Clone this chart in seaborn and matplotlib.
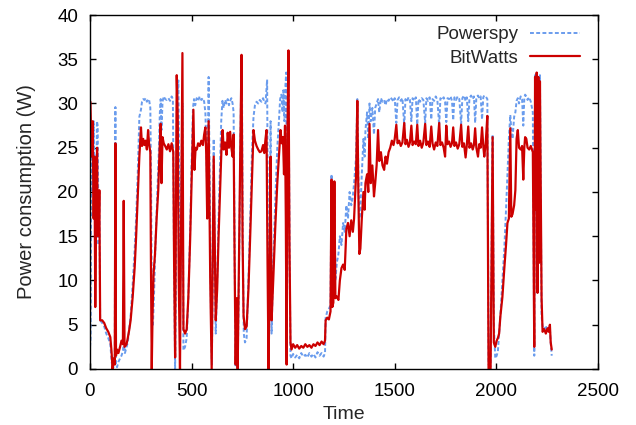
import matplotlib
matplotlib.use("Agg")
import matplotlib.pyplot as plt
import seaborn as sns
import pandas as pd

# BitWatts estimate (time, watts)
bw_time = [
    2, 8, 13, 18, 22, 26, 31, 35, 38, 43, 46, 50, 60, 70, 80, 90, 100, 106, 111, 118,
    122, 125, 128, 133, 140, 148, 155, 162, 166, 170, 180, 186, 193, 200, 210, 220, 227, 235, 243, 251,
    256, 262, 268, 274, 280, 286, 291, 297, 300, 304, 308, 313, 320, 328, 336, 343, 348, 352, 357, 363,
    370, 378, 386, 394, 402, 410, 414, 419, 427, 432, 437, 443, 450, 455, 460, 468, 476, 484, 493, 501,
    509, 514, 520, 526, 532, 540, 548, 556, 562, 568, 572, 577, 584, 592, 599, 604, 609, 614, 619, 626,
    633, 640, 648, 653, 658, 665, 672, 678, 684, 690, 696, 702, 707, 712, 717, 722, 727, 733, 740, 746,
    751, 756, 763, 771, 780, 790, 798, 805, 812, 820, 828, 836, 844, 852, 858, 864, 869, 874, 879, 884,
    889, 894, 902, 912, 922, 930, 938, 944, 950, 955, 960, 964, 968, 972, 977, 982, 987, 992, 1000, 1010,
    1020, 1030, 1040, 1050, 1060, 1070, 1080, 1090, 1100, 1110, 1120, 1130, 1140, 1150, 1157, 1160, 1168, 1176, 1184, 1189,
    1193, 1198, 1203, 1208, 1215, 1223, 1230, 1238, 1246, 1254, 1262, 1270, 1278, 1286, 1294, 1300, 1310, 1316, 1321, 1326,
    1331, 1338, 1346, 1352, 1356, 1364, 1370, 1376, 1382, 1390, 1398, 1404, 1411, 1418, 1424, 1432, 1440, 1448, 1455, 1462,
    1470, 1478, 1486, 1494, 1500, 1508, 1514, 1522, 1530, 1538, 1547, 1553, 1560, 1568, 1575, 1582, 1588, 1596, 1604, 1611,
    1617, 1625, 1633, 1641, 1650, 1656, 1664, 1672, 1680, 1686, 1694, 1702, 1710, 1719, 1725, 1733, 1741, 1748, 1754, 1760,
    1768, 1775, 1782, 1788, 1794, 1802, 1810, 1818, 1827, 1833, 1841, 1849, 1855, 1862, 1868, 1876, 1884, 1890, 1896, 1902,
    1910, 1916, 1923, 1930, 1936, 1941, 1948, 1956, 1962, 1972, 1982, 1988, 1995, 2002, 2008, 2014, 2020, 2030, 2040, 2048,
    2055, 2062, 2069, 2074, 2080, 2088, 2094, 2100, 2106, 2112, 2120, 2127, 2133, 2138, 2142, 2148, 2154, 2162, 2170, 2180,
    2184, 2187, 2191, 2195, 2199, 2203, 2207, 2211, 2215, 2219, 2223, 2228, 2236, 2244, 2252, 2258, 2264, 2268, 2273,
]
bw_watts = [
    30.2, 24, 28, 17, 24, 7, 20, 25, 15, 16, 20.2, 5.5, 5.5, 5.2, 4.6, 4.2, 3.6, 2, 0, 1.2,
    0.5, 25.5, 1.5, 2.2, 1.8, 2.5, 3.2, 2.8, 19, 2.5, 2.8, 3.5, 4.4, 5.5, 8.1, 11.5, 14.9, 19.5, 24, 27.3,
    25.2, 26, 25.3, 25.8, 24.8, 27, 25.4, 24.5, 12, 0, 6.3, 10.8, 13, 17, 20.2, 25, 27.7, 21, 26.2, 25.5,
    25.2, 24.8, 25.4, 24.6, 25.5, 24.5, 12, 1.3, 33.2, 28.5, 10, 0, 20, 35.7, 4.5, 4, 4.5, 8, 14.6, 22,
    29.3, 22.5, 25, 24.8, 25.5, 25.2, 25.8, 25.3, 26.5, 27.3, 24.5, 17, 28, 10, 0, 12, 24, 15, 5.5, 9,
    15, 20, 25.5, 27, 24.8, 25.6, 24.2, 26.7, 25, 26.8, 25, 24, 26.5, 12, 0.5, 8, 0, 12, 25, 35.5,
    15, 6, 4.5, 4.8, 9, 16, 22, 27, 25.8, 25.2, 24.8, 24.5, 24.6, 25.3, 24.4, 26, 27, 12, 0, 10,
    24, 5.5, 10, 16, 21, 24, 27, 25.5, 26.2, 22, 27.5, 17, 0.5, 26, 36, 14, 3, 2.2, 2.8, 2.4,
    2.7, 2.3, 2.6, 2.4, 2.8, 2.5, 2.7, 2.4, 2.8, 2.6, 3.0, 2.7, 3.1, 2.8, 3.2, 5.5, 5.8, 5.6, 6.5, 21.4,
    7, 7.5, 21.2, 8, 8.2, 7.8, 10, 11.4, 11.8, 11.2, 15.8, 16.5, 15, 16.8, 15.5, 17, 22, 30.3, 20, 13,
    13.6, 17, 20, 18, 21, 22, 20, 27.7, 21, 23, 19.5, 21, 23, 27, 23.5, 24.5, 23, 22.5, 24, 23.2,
    24.5, 25, 25.8, 25.3, 26, 27.6, 25.5, 25.8, 25.2, 25.6, 27.8, 25.4, 25.9, 25.1, 25.6, 27.5, 25.3, 25.7, 25.4, 27.6,
    25.2, 25.8, 25.0, 25.6, 27.7, 25.3, 25.7, 25.1, 27.4, 25.5, 24.8, 25.6, 25.2, 27.8, 25.3, 25.6, 25.0, 24.0, 27.5, 25.4,
    25.7, 25.1, 25.5, 27.3, 25.2, 25.6, 24.9, 25.4, 27.6, 25.1, 25.5, 23.9, 25.3, 27.4, 25.0, 25.5, 24.8, 25.3, 27.2, 25.0,
    24.0, 25.4, 25.0, 27.3, 25.2, 24.0, 25.5, 28.6, 0, 0, 26.2, 3, 2.5, 3.2, 3.5, 4, 5.9, 8.1, 11.5, 14,
    16.5, 17, 27.2, 17.2, 17.5, 18.5, 20.2, 26, 27, 25, 24.8, 25.2, 21.4, 25, 26.2, 26, 25, 24.8, 25.2, 24.5,
    12, 2.5, 33, 18, 33.5, 8.6, 33, 12, 32.5, 20, 8, 4.2, 4.5, 4.0, 4.6, 4.2, 5, 3, 2.2,
]

# Powerspy estimate (time, watts)
ps_time = [
    0, 3, 6, 10, 14, 18, 22, 26, 30, 34, 38, 42, 46, 50, 60, 70, 80, 90, 100, 106,
    111, 118, 122, 125, 128, 133, 140, 148, 155, 162, 166, 172, 180, 186, 193, 200, 210, 220, 227, 235,
    243, 251, 256, 262, 268, 274, 280, 286, 291, 297, 301, 305, 310, 316, 322, 330, 338, 344, 348, 352,
    357, 363, 370, 378, 386, 394, 402, 408, 413, 419, 424, 428, 435, 440, 445, 450, 455, 460, 468, 476,
    484, 493, 501, 507, 512, 518, 525, 532, 540, 548, 556, 562, 568, 573, 577, 584, 590, 596, 600, 604,
    609, 614, 619, 626, 633, 640, 646, 652, 658, 665, 672, 678, 684, 690, 696, 702, 707, 712, 717, 722,
    727, 733, 738, 743, 748, 752, 757, 763, 771, 780, 790, 798, 805, 812, 820, 828, 836, 844, 852, 858,
    864, 872, 876, 880, 885, 889, 894, 902, 912, 922, 930, 936, 942, 948, 952, 957, 962, 966, 970, 974,
    978, 983, 987, 992, 1000, 1010, 1020, 1030, 1040, 1050, 1060, 1070, 1080, 1090, 1100, 1110, 1120, 1130, 1140, 1150,
    1157, 1160, 1168, 1176, 1184, 1189, 1193, 1198, 1203, 1208, 1215, 1223, 1230, 1238, 1246, 1254, 1262, 1270, 1278, 1286,
    1294, 1300, 1310, 1316, 1321, 1326, 1331, 1338, 1346, 1352, 1356, 1364, 1370, 1376, 1382, 1390, 1398, 1404, 1411, 1418,
    1424, 1432, 1440, 1448, 1455, 1462, 1470, 1478, 1486, 1494, 1500, 1508, 1514, 1522, 1530, 1538, 1547, 1553, 1560, 1568,
    1575, 1582, 1588, 1596, 1604, 1611, 1617, 1625, 1633, 1641, 1650, 1656, 1664, 1672, 1680, 1686, 1694, 1702, 1710, 1719,
    1725, 1733, 1741, 1748, 1754, 1760, 1768, 1775, 1782, 1788, 1794, 1802, 1810, 1818, 1827, 1833, 1841, 1849, 1855, 1862,
    1868, 1876, 1884, 1890, 1896, 1902, 1910, 1916, 1923, 1930, 1936, 1941, 1948, 1956, 1962, 1972, 1982, 1988, 1995, 2002,
    2008, 2014, 2020, 2030, 2040, 2048, 2055, 2062, 2069, 2074, 2080, 2088, 2094, 2100, 2106, 2112, 2120, 2127, 2133, 2138,
    2142, 2148, 2154, 2162, 2170, 2180, 2184, 2187, 2191, 2195, 2199, 2203, 2207, 2211, 2215, 2219, 2223, 2228, 2236, 2244,
    2252, 2258, 2264, 2268, 2273,
]
ps_watts = [
    2.5, 3.5, 28, 27, 20, 28, 22, 24, 16, 28, 27.5, 14, 20, 5.5, 5.2, 4.8, 4.0, 3.5, 2.8, 1.0,
    0, 0.3, 1, 29.6, 0.5, 0.2, 0.8, 1.2, 1.5, 2.0, 3, 1.8, 2.5, 3.0, 4.5, 6, 9.5, 13.5, 17, 22,
    28.5, 29.3, 30.2, 30.5, 30.4, 30.6, 30.2, 30.5, 30.4, 29.5, 20, 5.2, 5, 9, 14, 19, 24, 29, 30.5, 27,
    30.2, 30.8, 30.5, 30.4, 30.6, 30.3, 30.8, 30.5, 15, 0, 12, 30, 32.6, 20, 10, 22, 30, 2.1, 2.5, 3.5,
    8, 15.5, 24, 29.5, 30.5, 29.8, 30.6, 30.3, 30.8, 30.4, 30.6, 30.2, 29, 25, 20, 33, 20, 5, 0.5, 10,
    26, 12, 4, 10, 17, 23, 28, 30.3, 29.5, 30.4, 30, 30.5, 29.8, 30.3, 30.6, 30, 29, 13, 0.2, 5,
    0, 10, 20, 30, 33, 14, 4, 3, 3.5, 10, 18, 25, 28.5, 29.8, 30.2, 30, 30.4, 30.2, 30.6, 30.2,
    30, 32.7, 14, 0.3, 12, 28, 4, 12, 19, 25, 28, 30.5, 31, 29, 31.5, 28, 32, 33.5, 8, 30,
    31, 12, 1.5, 1.2, 1.7, 1.3, 1.6, 1.2, 1.8, 1.4, 1.6, 1.3, 1.8, 1.4, 1.7, 1.3, 1.9, 1.5, 1.8, 1.4,
    1.8, 5.8, 6.5, 6.8, 7.2, 22, 8, 9, 20, 10, 12, 13, 15, 14, 16.5, 15.5, 18.5, 17, 20, 18.5,
    19.5, 21, 24, 30.5, 22, 17, 18, 22, 26, 24, 27, 29, 26, 30, 28, 29.5, 26.5, 29.5, 30, 30.5,
    29, 30.6, 30.2, 30.4, 29.8, 30.5, 30.3, 30.7, 30.5, 30.2, 30.6, 27.8, 30.4, 30.7, 30.3, 30.6, 27.5, 30.5, 30.2, 30.7,
    30.4, 28.0, 30.6, 30.3, 30.7, 27.6, 30.5, 30.2, 30.6, 30.4, 27.8, 30.6, 30.3, 30.7, 28.2, 30.5, 30.3, 30.8, 30.4, 27.5,
    30.6, 30.4, 30.7, 30.2, 27.9, 30.6, 30.5, 30.8, 30.3, 28.1, 30.7, 30.4, 30.8, 30.5, 27.7, 30.6, 30.9, 30.3, 30.7, 28.0,
    30.6, 30.9, 30.5, 30.8, 27.8, 30.7, 30.9, 30.6, 30.8, 28.2, 30.7, 30.9, 30.8, 30.5, 0.5, 0.3, 26.5, 5, 1.2, 1.5,
    2, 4, 6, 10, 13.8, 18, 22, 26, 28.7, 27, 26, 28.5, 29, 30.3, 30.6, 30, 30.8, 30.5, 27.5, 30.6,
    31, 30.8, 30.4, 30.7, 30.2, 29, 14, 1.5, 33.2, 22, 33.5, 12, 33, 18, 33.2, 20, 6, 4.8, 4.4, 4.9,
    4.2, 4.7, 4.5, 3, 1.5,
]

bitwatts = pd.DataFrame({"Time": bw_time, "Power": bw_watts})
powerspy = pd.DataFrame({"Time": ps_time, "Power": ps_watts})

sns.set_theme(style="ticks")
plt.rcParams["font.family"] = ["Liberation Sans", "DejaVu Sans"]
plt.rcParams["font.size"] = 14

fig = plt.figure(figsize=(6.36, 4.25), dpi=100)
ax = fig.add_axes([0.1415, 0.1318, 0.7985, 0.8329])

sns.lineplot(data=powerspy, x="Time", y="Power", ax=ax, estimator=None, sort=False,
             color="#6a9ced", linewidth=1.4, linestyle=(0, (2, 1.2)), label="Powerspy")
sns.lineplot(data=bitwatts, x="Time", y="Power", ax=ax, estimator=None, sort=False,
             color="#cc0000", linewidth=1.6, label="BitWatts")

ax.set_xlim(0, 2500)
ax.set_ylim(0, 40)
ax.set_xticks(range(0, 2501, 500))
ax.set_yticks(range(0, 41, 5))
ax.set_xlabel("Time", fontsize=14)
ax.set_ylabel("Power consumption (W)", fontsize=14.5)
ax.xaxis.set_label_coords(0.5, -0.105)
ax.yaxis.set_label_coords(-0.106, 0.5)
ax.tick_params(direction="in", length=4, width=1, top=True, right=True,
               labelsize=13.5, colors="black")
ax.tick_params(axis="x", pad=10)
ax.tick_params(axis="y", pad=8.5)
for s in ax.spines.values():
    s.set_visible(True)
    s.set_color("black")
    s.set_linewidth(1)

ax.legend(loc="upper right", bbox_to_anchor=(0.98, 0.99), frameon=False,
          markerfirst=False, fontsize=13.5, handlelength=2.7, handletextpad=0.6,
          labelspacing=0.36, borderaxespad=0)

fig.savefig("out.png", dpi=100)
